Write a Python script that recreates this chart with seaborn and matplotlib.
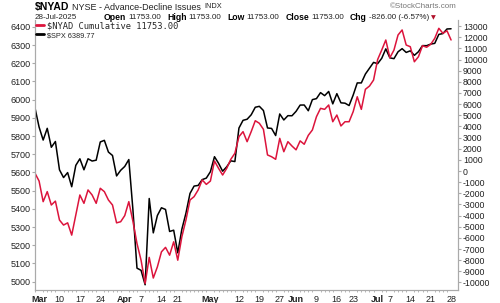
import numpy as np
import pandas as pd
import matplotlib
matplotlib.use("Agg")
import matplotlib.pyplot as plt
from matplotlib.lines import Line2D
import seaborn as sns

# ---------------- data ----------------
holidays = ["2025-04-18", "2025-05-26", "2025-06-19", "2025-07-04"]
trading_days = [d for d in pd.bdate_range("2025-02-28", "2025-07-28") if d.strftime("%Y-%m-%d") not in holidays]

spx = [5954.50, 5849.72, 5778.15, 5842.63, 5738.52, 5770.20, 5614.56, 5572.07, 5599.30, 5521.52,
       5638.94, 5675.12, 5614.66, 5675.29, 5662.89, 5667.56, 5767.57, 5776.65, 5712.20, 5693.31,
       5580.94, 5611.85, 5633.07, 5670.97, 5396.52, 5074.08, 5062.25, 4982.77, 5456.90, 5268.05,
       5363.36, 5405.97, 5396.63, 5275.70, 5282.70, 5158.20, 5287.76, 5375.86, 5484.77, 5525.21,
       5528.75, 5560.83, 5569.06, 5604.14, 5686.67, 5650.38, 5606.91, 5631.28, 5663.94, 5659.91,
       5844.19, 5886.55, 5892.58, 5916.93, 5958.38, 5963.60, 5940.46, 5844.61, 5842.01, 5802.82,
       5921.54, 5888.55, 5912.17, 5911.69, 5935.94, 5970.37, 5970.81, 5939.30, 6000.36, 6005.88,
       6038.81, 6022.24, 6045.26, 5976.97, 6033.11, 5982.72, 5980.87, 5967.84, 6025.17, 6092.18,
       6092.16, 6141.02, 6173.07, 6204.95, 6198.01, 6227.42, 6279.35, 6229.98, 6225.52, 6263.26,
       6280.46, 6259.75, 6268.56, 6243.76, 6263.70, 6297.36, 6296.79, 6305.60, 6309.62, 6358.91,
       6363.35, 6388.64, 6389.77]

nyad = [-200, -900, -2750, -1850, -3050, -2700, -4400, -4850, -4650, -5750,
        -3950, -2150, -2900, -1700, -2150, -2900, -1550, -1850, -2600, -3050,
        -4650, -4550, -4000, -2750, -4500, -6500, -8000, -10100, -7750, -9600,
        -8600, -7250, -6850, -7550, -6350, -8000, -5900, -4400, -2600, -2300,
        -1700, -800, -1200, -900, 900, 240, -360, 240, 1050, 1590,
        3080, 3530, 2630, 3530, 4510, 4280, 3740, 1440, 1280, 1050,
        2930, 1730, 2630, 2240, 1900, 2700, 2400, 3200, 3680, 4870,
        5620, 5530, 5920, 4420, 5020, 4040, 4420, 4420, 5320, 6660,
        5530, 7330, 7620, 8160, 10000, 10850, 11750, 10160, 10850, 12200,
        12650, 11300, 11150, 9800, 10250, 11240, 11100, 11360, 11900, 12800,
        12350, 12579, 11753]

tick_dates = ["2025-03-03", "2025-03-10", "2025-03-17", "2025-03-24", "2025-04-01", "2025-04-07",
              "2025-04-14", "2025-04-21", "2025-05-01", "2025-05-12", "2025-05-19", "2025-05-27",
              "2025-06-02", "2025-06-09", "2025-06-16", "2025-06-23", "2025-07-01", "2025-07-07",
              "2025-07-14", "2025-07-21", "2025-07-28"]
tick_labels = ["Mar", "10", "17", "24", "Apr", "7", "14", "21", "May", "12", "19", "27",
               "Jun", "9", "16", "23", "Jul", "7", "14", "21", "28"]
month_labels = {"Mar", "Apr", "May", "Jun", "Jul"}

left_ticks = list(range(5000, 6401, 100))
right_ticks = list(range(-10000, 13001, 1000))

RED = "#dc143c"
GRAY = "#aaaaaa"

# ---------------- figure ----------------
sns.set_style("white")
plt.rcParams["font.family"] = ["Liberation Sans", "DejaVu Sans"]

W, H = 500, 303
fig = plt.figure(figsize=(W / 100, H / 100), dpi=100)
ax = fig.add_axes([35 / W, 1 - 290 / H, (458 - 35) / W, (290 - 20) / H])

df = pd.DataFrame({"t": np.arange(len(spx)), "date": trading_days, "spx": spx, "nyad": nyad})
sns.lineplot(data=df, x="t", y="spx", ax=ax, color="black", lw=1.1)
ax2 = ax.twinx()
sns.lineplot(data=df, x="t", y="nyad", ax=ax2, color=RED, lw=1.1)

ax.set_xlim(0, 103.7)
ax.set_ylim(4954, 6438)
ax2.set_ylim(-10674, 13545)

day_str = [d.strftime("%Y-%m-%d") for d in trading_days]
xpos = [day_str.index(d) for d in tick_dates]
ax.set_xticks(xpos)
ax.set_xticklabels(tick_labels)
ax.set_xticks(np.arange(len(spx)), minor=True)
for lab in ax.get_xticklabels():
    if lab.get_text() in month_labels:
        lab.set_fontweight("bold")

ax.set_yticks(left_ticks)
ax.set_yticklabels([str(v) for v in left_ticks])
ax2.set_yticks(right_ticks)
ax2.set_yticklabels([str(v) for v in right_ticks])

for a in (ax, ax2):
    a.set_xlabel("")
    a.set_ylabel("")
    for s in a.spines.values():
        s.set_color(GRAY)
        s.set_linewidth(0.8)
    a.spines["top"].set_visible(False)

ax.tick_params(axis="x", which="major", labelsize=6.5, length=2, pad=1.5, color=GRAY, labelcolor="#222222")
ax.tick_params(axis="x", which="minor", length=1.5, color=GRAY, bottom=True)
ax.tick_params(axis="y", labelsize=6.5, length=2, pad=1, color=GRAY, labelcolor="#222222", left=True)
ax2.tick_params(axis="y", labelsize=6.3, length=2, pad=1.5, color=GRAY, labelcolor="#222222", right=True)

# legend
handles = [Line2D([], [], color=RED, lw=2), Line2D([], [], color="black", lw=2)]
leg = ax2.legend(handles, ["$NYAD Cumulative 11753.00", "$SPX 6389.77"], loc="upper left",
                 bbox_to_anchor=(36 / W, 1 - 21 / H), bbox_transform=fig.transFigure,
                 frameon=False, borderpad=0, borderaxespad=0, handlelength=1.0,
                 handletextpad=0.3, labelspacing=0.15, fontsize=6)
t0, t1 = leg.get_texts()
t0.set_fontfamily("DejaVu Sans Mono")
t0.set_fontsize(6.3)
t1.set_fontsize(5.3)

# header
renderer = fig.canvas.get_renderer()


def seq(pieces, x0, y):
    x = x0
    for s, w, size, col, gap in pieces:
        t = fig.text(x / W, 1 - y / H, s, fontsize=size, fontweight=w, color=col,
                     va="center", ha="left")
        x += t.get_window_extent(renderer=renderer).width + gap
    return x


seq([("$NYAD", "bold", 7.5, "black", 3),
     ("NYSE - Advance-Decline Issues", "normal", 6.5, "#222222", 3),
     ("INDX", "normal", 5.3, "#222222", 0)], 35, 7)

fig.text(35 / W, 1 - 17.5 / H, "28-Jul-2025", fontsize=5.8, color="#222222", va="center")
end = seq([("Open", "bold", 6.2, "black", 2), ("11753.00", "normal", 5.8, "#222222", 6),
           ("High", "bold", 6.2, "black", 2), ("11753.00", "normal", 5.8, "#222222", 6),
           ("Low", "bold", 6.2, "black", 2), ("11753.00", "normal", 5.8, "#222222", 6),
           ("Close", "bold", 6.2, "black", 2), ("11753.00", "normal", 5.8, "#222222", 6),
           ("Chg", "bold", 6.2, "black", 2), ("-826.00 (-6.57%)", "normal", 5.8, "#222222", 2)],
          104, 17.5)
fig.text(end / W, 1 - 17.5 / H, "\u25bc", fontsize=4.5, color="#b0102a", va="center",
         family="DejaVu Sans")
fig.text(457 / W, 1 - 7 / H, "\u00a9StockCharts.com", fontsize=5.8, color="#777777",
         va="center", ha="right")

fig.savefig("out.png", dpi=100)
